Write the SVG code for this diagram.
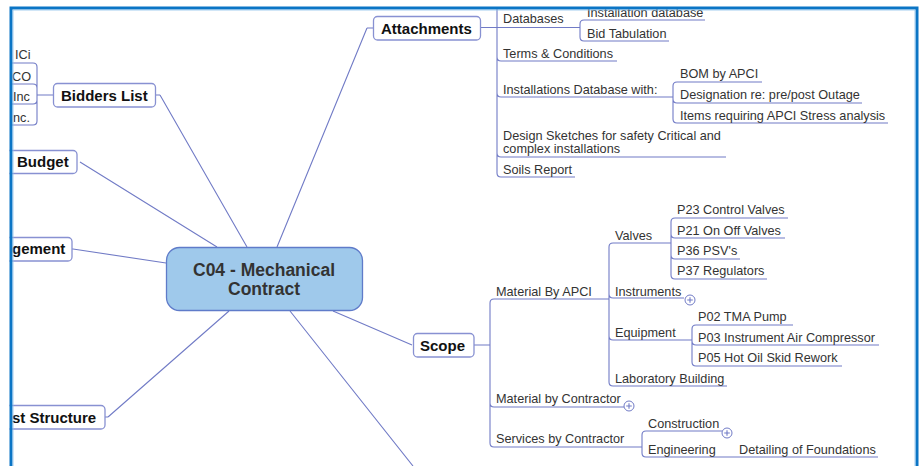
<svg xmlns="http://www.w3.org/2000/svg" width="922" height="466" viewBox="0 0 922 466">
<style>
.ln{fill:none;stroke:#717bc6;stroke-width:1.1}
.t{font-family:"Liberation Sans",Arial,sans-serif;font-size:12.7px;fill:#333}
.b{font-family:"Liberation Sans",Arial,sans-serif;font-size:15px;font-weight:bold;fill:#111}
.box{fill:#fff;stroke:#8891d2;stroke-width:1.3}
.plus{fill:#fff;stroke:#717bc6;stroke-width:1}
</style>
<defs>
<g id="plus"><circle class="plus" r="5"/><path class="ln" d="M-2.8 0H2.8M0 -2.8V2.8"/></g>
</defs>
<rect x="0" y="0" width="922" height="466" fill="#fff"/>
<g id="connectors">
<path class="ln" d="M160 95L247 247M80 162L217 247M367 28L277 247M73 249L166 263M108 417L229 311M333 311L412 345M290 311L413 466"/>
<path class="ln" d="M155 95H160M367 28H373M37 95H53M105 417H108M72 249H73"/>
<path class="ln" d="M11 63H33Q37 63 37 67V121Q37 125 33 125H11M11 84H33Q37 84 37 88M11 104H33Q37 104 37 100"/>
<path class="ln" d="M481 27.5H580M497 9V173Q497 177 501 177H575M497 57Q497 61 501 61H617M497 93Q497 97 501 97H673M497 153Q497 157 501 157H726"/>
<path class="ln" d="M584 20Q580 20 580 24V37Q580 41 584 41H669M584 20H705"/>
<path class="ln" d="M677 82Q673 82 673 86V119Q673 123 677 123H888M677 82H762M673 99Q673 103 677 103H862"/>
<path class="ln" d="M474 345H490M494 299Q490 299 490 303V443Q490 447 494 447H642M494 299H609M490 403Q490 407 494 407H624"/>
<path class="ln" d="M613 243Q609 243 609 247V382Q609 386 613 386H727M613 243H671M609 294Q609 298 613 298H684M609 336Q609 340 613 340H692"/>
<path class="ln" d="M675 218Q671 218 671 222V275Q671 279 675 279H767M675 218H788M671 234Q671 238 675 238H785M671 255Q671 259 675 259H740"/>
<path class="ln" d="M696 325Q692 325 692 329V362Q692 366 696 366H842M696 325H793M692 341Q692 345 696 345H879"/>
<path class="ln" d="M646 431Q642 431 642 435V453Q642 457 646 457H878M646 431H722"/>
<use href="#plus" x="629" y="406"/>
<use href="#plus" x="690" y="300"/>
<use href="#plus" x="727" y="433"/>
</g>
<g id="central">
<rect x="166.5" y="247.5" width="196" height="63" rx="13" fill="#9fc9eb" stroke="#5f7bc9" stroke-width="1.3"/>
<text x="264" y="276" text-anchor="middle" font-family="Liberation Sans,Arial,sans-serif" font-size="17.5" font-weight="bold" fill="#333">C04 - Mechanical</text>
<text x="264" y="295" text-anchor="middle" font-family="Liberation Sans,Arial,sans-serif" font-size="17.5" font-weight="bold" fill="#333">Contract</text>
</g>
<g id="attachments">
<rect class="box" x="373.5" y="16.5" width="107" height="23.5" rx="4"/>
<text class="b" x="381" y="34">Attachments</text>
</g>
<g id="bidders">
<rect class="box" x="53.5" y="83.5" width="102" height="23.5" rx="4"/>
<text class="b" x="61" y="101">Bidders List</text>
</g>
<g id="budget">
<rect class="box" x="0" y="150.5" width="77" height="23" rx="4"/>
<text class="b" x="17" y="167">Budget</text>
</g>
<g id="management">
<rect class="box" x="0" y="237.5" width="72" height="23.5" rx="4"/>
<text class="b" x="12" y="254">gement</text>
</g>
<g id="cost">
<rect class="box" x="0" y="405.5" width="105" height="23.5" rx="4"/>
<text class="b" x="12" y="423">st Structure</text>
</g>
<g id="scope">
<rect class="box" x="413.5" y="333.5" width="60.5" height="23.5" rx="4"/>
<text class="b" x="420" y="351">Scope</text>
</g>
<g id="bidders-items">
<text class="t" x="15" y="59">ICi</text>
<text class="t" x="12" y="81">CO</text>
<text class="t" x="13" y="101">Inc</text>
<text class="t" x="13" y="122">nc.</text>
</g>
<g id="attachments-items">
<text class="t" x="587" y="17">Installation database</text>
<text class="t" x="503" y="23">Databases</text>
<text class="t" x="587" y="38">Bid Tabulation</text>
<text class="t" x="503" y="58">Terms &amp; Conditions</text>
<text class="t" x="503" y="94">Installations Database with:</text>
<text class="t" x="680" y="78">BOM by APCI</text>
<text class="t" x="680" y="99">Designation re: pre/post Outage</text>
<text class="t" x="680" y="120">Items requiring APCI Stress analysis</text>
<text class="t" x="503" y="140">Design Sketches for safety Critical and</text>
<text class="t" x="503" y="153">complex installations</text>
<text class="t" x="503" y="174">Soils Report</text>
</g>
<g id="scope-items">
<text class="t" x="496" y="296">Material By APCI</text>
<text class="t" x="615" y="240">Valves</text>
<text class="t" x="677" y="214">P23 Control Valves</text>
<text class="t" x="677" y="235">P21 On Off Valves</text>
<text class="t" x="677" y="255">P36 PSV's</text>
<text class="t" x="677" y="275">P37 Regulators</text>
<text class="t" x="615" y="296">Instruments</text>
<text class="t" x="615" y="337">Equipment</text>
<text class="t" x="698" y="321">P02 TMA Pump</text>
<text class="t" x="698" y="342">P03 Instrument Air Compressor</text>
<text class="t" x="698" y="362">P05 Hot Oil Skid Rework</text>
<text class="t" x="615" y="383">Laboratory Building</text>
<text class="t" x="496" y="403">Material by Contractor</text>
<text class="t" x="496" y="443">Services by Contractor</text>
<text class="t" x="648" y="428">Construction</text>
<text class="t" x="648" y="454">Engineering</text>
<text class="t" x="739" y="454">Detailing of Foundations</text>
</g>
<g id="frame">
<rect x="0" y="0" width="922" height="6.5" fill="#fff"/>
<rect x="0" y="0" width="9.5" height="466" fill="#fff"/>
<rect x="919" y="0" width="3" height="466" fill="#fff"/>
<rect x="11" y="8" width="906" height="480" fill="none" stroke="#0b75c5" stroke-width="3"/>
<rect x="13" y="10" width="902" height="480" fill="none" stroke="#8cc0ea" stroke-width="0.8"/>
</g>
</svg>
